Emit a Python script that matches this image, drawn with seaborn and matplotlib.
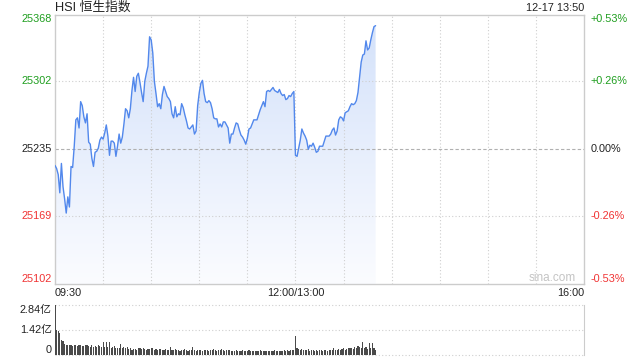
import numpy as np
import pandas as pd
import matplotlib
matplotlib.use("Agg")
import matplotlib.pyplot as plt
import seaborn as sns
from matplotlib.colors import LinearSegmentedColormap

# ---------------- data ----------------
title = "HSI 恒生指数"
stamp = "12-17 13:50"
prev_close = 25235

price = [
    25219, 25216, 25210, 25192, 25221, 25198, 25186, 25172, 25188, 25178,
    25218, 25217, 25238, 25264, 25266, 25256, 25282, 25278, 25267, 25261,
    25270, 25242, 25240, 25226, 25218, 25232, 25233, 25236, 25244, 25247,
    25245, 25251, 25259, 25248, 25229, 25243, 25243, 25241, 25228, 25238,
    25250, 25241, 25247, 25260, 25275, 25273, 25266, 25275, 25293, 25306,
    25292, 25307, 25310, 25301, 25291, 25282, 25302, 25310, 25317, 25346,
    25343, 25330, 25302, 25290, 25277, 25280, 25275, 25289, 25297, 25292,
    25287, 25285, 25282, 25270, 25266, 25277, 25267, 25270, 25269, 25280,
    25276, 25269, 25263, 25256, 25255, 25257, 25259, 25250, 25253, 25278,
    25291, 25300, 25303, 25290, 25282, 25281, 25283, 25281, 25275, 25266,
    25265, 25265, 25257, 25260, 25257, 25262, 25262, 25259, 25256, 25241,
    25250, 25250, 25256, 25261, 25260, 25254, 25249, 25247, 25244, 25240,
    25246, 25255, 25256, 25260, 25264, 25264, 25264, 25269, 25274, 25278,
    25282, 25277, 25292, 25293, 25292, 25294, 25296, 25293, 25292, 25291,
    25294, 25290, 25288, 25289, 25284, 25285, 25288, 25287, 25290, 25292,
    25229, 25228, 25236, 25244, 25255, 25251, 25248, 25244, 25235, 25239,
    25238, 25241, 25237, 25232, 25233, 25238, 25238, 25238, 25243, 25248,
    25248, 25248, 25250, 25254, 25256, 25249, 25253, 25264, 25267, 25266,
    25263, 25271, 25272, 25273, 25277, 25280, 25279, 25280, 25283, 25291,
    25306, 25321, 25328, 25329, 25342, 25333, 25335, 25343, 25350, 25356,
    25357,
]

volume = [
    2.84, 1.42, 1.36, 1.23, 0.85, 0.77, 0.60, 0.57, 0.57, 0.55,
    0.57, 0.52, 0.55, 0.57, 0.50, 0.55, 0.57, 0.52, 0.50, 0.55,
    0.57, 0.52, 0.48, 0.55, 0.45, 0.52, 0.48, 0.57, 0.50, 0.45,
    0.76, 0.45, 0.72, 0.48, 0.76, 0.40, 0.45, 0.50, 0.40, 0.42,
    0.38, 0.62, 0.40, 0.45, 0.38, 0.48, 0.35, 0.40, 0.30, 0.32,
    0.35, 0.30, 0.38, 0.42, 0.35, 0.38, 0.32, 0.30, 0.35, 0.32,
    0.38, 0.40, 0.30, 0.35, 0.30, 0.32, 0.35, 0.28, 0.30, 0.32,
    0.28, 0.30, 0.45, 0.30, 0.28, 0.32, 0.30, 0.28, 0.25, 0.30,
    0.28, 0.32, 0.28, 0.25, 0.28, 0.30, 0.45, 0.28, 0.25, 0.30,
    0.28, 0.30, 0.25, 0.28, 0.30, 0.28, 0.25, 0.28, 0.30, 0.32,
    0.28, 0.25, 0.28, 0.30, 0.35, 0.28, 0.25, 0.28, 0.30, 0.28,
    0.25, 0.22, 0.25, 0.28, 0.25, 0.22, 0.25, 0.28, 0.25, 0.22,
    0.25, 0.30, 0.25, 0.22, 0.20, 0.25, 0.22, 0.25, 0.28, 0.25,
    0.22, 0.25, 0.22, 0.20, 0.25, 0.22, 0.25, 0.28, 0.25, 0.22,
    0.20, 0.22, 0.25, 0.28, 0.25, 0.30, 0.25, 0.28, 0.30, 0.28,
    1.08, 0.40, 0.35, 0.30, 0.35, 0.30, 0.28, 0.30, 0.32, 0.25,
    0.28, 0.30, 0.25, 0.28, 0.22, 0.30, 0.28, 0.25, 0.30, 0.28,
    0.25, 0.30, 0.28, 0.30, 0.40, 0.30, 0.28, 0.32, 0.30, 0.35,
    0.38, 0.30, 0.35, 0.40, 0.38, 0.42, 0.35, 0.45, 0.40, 0.50,
    0.45, 0.42, 0.76, 0.40, 0.45, 0.35, 0.68, 0.42, 0.66, 0.40,
    0.30,
]

y_ticks = [25102, 25169, 25235, 25302, 25368]
pct_labels = ["-0.53%", "-0.26%", "0.00%", "+0.26%", "+0.53%"]
vol_ticks = [0, 1.42, 2.84]
vol_labels = ["0", "1.42亿", "2.84亿"]
x_labels = ["09:30", "12:00/13:00", "16:00"]
x_label_pos = [0, 150, 330]

# ---------------- style ----------------
sns.set_style("white")
plt.rcParams["font.family"] = ["Liberation Sans", "Noto Sans CJK SC", "DejaVu Sans"]

GREEN = "#1f9e1f"
RED = "#f03333"
BLACK = "#222222"
GRID = "#cfcfcf"
SPINE = "#cccccc"
LINE = "#5288ec"

df = pd.DataFrame({"minute": np.arange(len(price)), "price": price})
vdf = pd.DataFrame({"minute": np.arange(len(volume)), "volume": volume})

W, H = 640, 360
fig = plt.figure(figsize=(6.4, 3.6), dpi=100)
L, R = 55 / W, 584 / W
ax = fig.add_axes([L, 1 - 284 / H, R - L, (284 - 14.5) / H])
axv = fig.add_axes([L, 1 - 355 / H, R - L, (355 - 305) / H])

XMAX = 330
ymin, ymax = y_ticks[0], y_ticks[-1]

# gradient fill under the line
ax.set_xlim(0, XMAX)
ax.set_ylim(ymin, ymax)
poly = ax.fill_between(df["minute"], df["price"], ymin, color="none", lw=0)
cmap = LinearSegmentedColormap.from_list("g", ["#fbfcff", "#d3e1fa"])
grad = np.linspace(0, 1, 256).reshape(-1, 1)
img = ax.imshow(grad, cmap=cmap, aspect="auto", origin="lower",
                extent=[0, XMAX, ymin, ymax], zorder=1)
img.set_clip_path(poly.get_paths()[0], transform=ax.transData)

sns.lineplot(data=df, x="minute", y="price", ax=ax, color=LINE, lw=1.0, zorder=3)

# grid lines
for m in range(30, XMAX, 30):
    ax.axvline(m, color=GRID, lw=0.8, ls=(0, (1, 2)), zorder=2)
for v in (y_ticks[1], y_ticks[3]):
    ax.axhline(v, color=GRID, lw=0.8, ls=(0, (1, 2)), zorder=2)
ax.axhline(prev_close, color="#b0b0b0", lw=0.8, ls=(0, (3, 2)), zorder=2)

ax.set_xticks([])
ax.set_yticks([])
ax.set_xlabel("")
ax.set_ylabel("")
for s in ax.spines.values():
    s.set_color(SPINE)
    s.set_linewidth(1.0)

FS = 7.8
colors = [RED, RED, BLACK, GREEN, GREEN]
for i, (v, pl, c) in enumerate(zip(y_ticks, pct_labels, colors)):
    va = "bottom" if i == 0 else ("top" if i == len(y_ticks) - 1 else "center")
    ax.text(-0.006, v, str(v), transform=ax.get_yaxis_transform(),
            ha="right", va=va, color=c, fontsize=FS)
    ax.text(1.012, v, pl, transform=ax.get_yaxis_transform(),
            ha="left", va=va, color=c, fontsize=FS)

has = ["left", "center", "right"]
for lab, pos, ha in zip(x_labels, x_label_pos, has):
    ax.text(pos, -0.032, lab, transform=ax.get_xaxis_transform(),
            ha=ha, va="center", color=BLACK, fontsize=FS)

ax.text(0.985, 0.022, "sina.com", transform=ax.transAxes, ha="right", va="center",
        color="#c4c4c4", fontsize=8.5)

fig.text(L, 1 - 8 / H, title, ha="left", va="center", color=BLACK, fontsize=9.2)
fig.text(R, 1 - 8 / H, stamp, ha="right", va="center", color=BLACK, fontsize=FS)

# volume panel
sns.barplot(data=vdf, x="minute", y="volume", ax=axv, native_scale=True,
            color="#4a4a4a", width=0.7, saturation=1, edgecolor="none")
axv.set_xlim(0, XMAX)
axv.set_ylim(0, vol_ticks[-1])
for v in vol_ticks:
    axv.axhline(v, color=GRID, lw=0.8, ls=(0, (1, 2)), zorder=0, clip_on=False)
axv.set_xticks([])
axv.set_yticks([])
axv.set_xlabel("")
axv.set_ylabel("")
for k in ("top", "bottom", "left"):
    axv.spines[k].set_visible(False)
axv.spines["right"].set_color(SPINE)
for i, (v, lab) in enumerate(zip(vol_ticks, vol_labels)):
    va = "bottom" if i == 0 else ("top" if i == len(vol_ticks) - 1 else "center")
    axv.text(-0.006, v, lab, transform=axv.get_yaxis_transform(),
             ha="right", va=va, color=BLACK, fontsize=FS)

fig.savefig("out.png", dpi=100)
